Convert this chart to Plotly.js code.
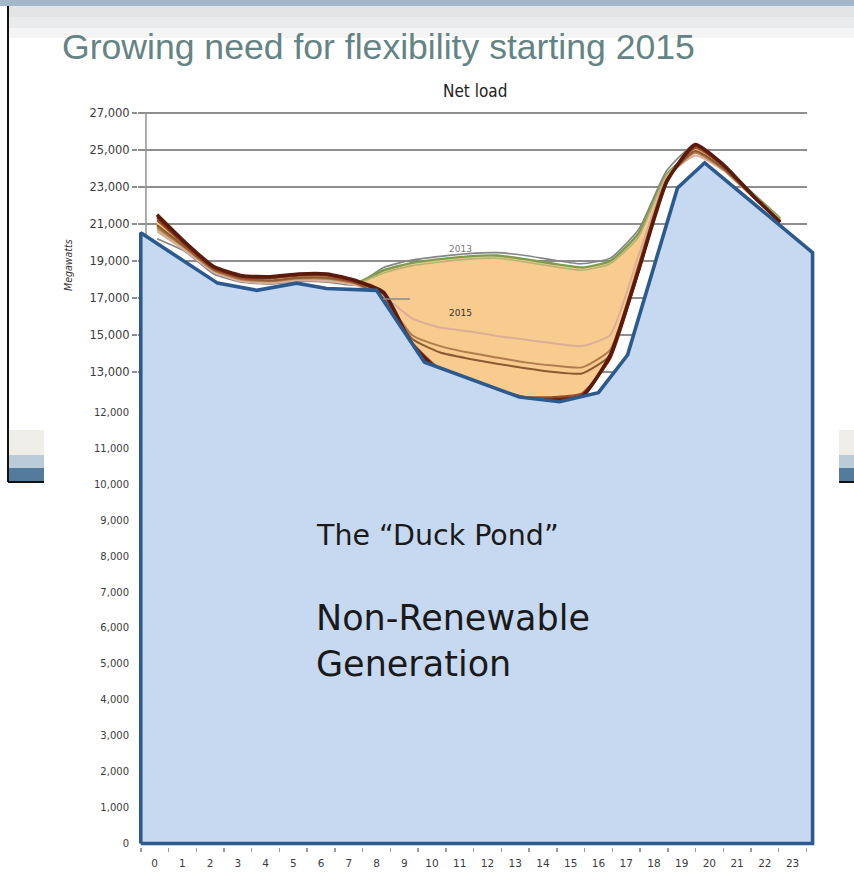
<!DOCTYPE html>
<html>
<head>
<meta charset="utf-8">
<script src="https://cdn.plot.ly/plotly-3.0.1.min.js"></script>
<style>
  html, body { margin: 0; padding: 0; background: #ffffff; }
  #chart { width: 854px; height: 872px; }
</style>
</head>
<body>
<div id="chart"></div>
<script>
// ---- Net load curves (MW) by hour of day, one array per year ----
const hours = [0,1,2,3,4,5,6,7,8,9,10,11,12,13,14,15,16,17,18,19,20,21,22];

const load2012 = [20200,19500,18300,17850,17750,17900,17850,17700,18650,19050,19250,19400,19450,19300,19050,18850,19150,20700,23900,25300,24100,22600,21250];
const load2013 = [20900,19700,18500,18000,17900,18050,18000,17800,18500,18900,19100,19250,19300,19100,18850,18650,19000,20500,23700,24900,24000,22700,21300];
const load2014 = [20700,19600,18450,17950,17850,18000,17950,17750,18350,18750,18950,19100,19150,18950,18700,18500,18850,20300,23650,24850,23950,22650,21250];
const load2015 = [20600,19550,18400,17900,17800,17950,17900,17700,17100,15900,15400,15200,14950,14750,14550,14400,15000,19300,23500,24700,23900,22500,21150];
const load2016 = [20800,19700,18500,18000,17900,18050,18050,17800,17000,15000,14400,14050,13780,13520,13350,13250,14200,18800,23450,24850,23950,22520,21150];
const load2017 = [20950,19750,18550,18050,17950,18100,18100,17820,16950,14800,14050,13720,13450,13200,13000,12920,13900,18700,23400,24950,24000,22540,21120];
const load2018 = [21200,19850,18600,18100,18050,18200,18200,17850,17200,14600,13150,12600,12050,11650,11650,11850,13700,18400,23350,25100,24100,22550,21100];
const load2019 = [21350,19900,18650,18150,18100,18250,18250,17900,17250,14550,13050,12500,11950,11550,11550,11750,13800,18450,23300,25200,24150,22580,21100];
const load2020 = [21500,20000,18700,18200,18150,18300,18300,17950,17300,14500,12950,12400,11850,11450,11450,11650,13900,18500,23300,25300,24200,22600,21100];

const years  = ['2012','2013','2014','2015','2016','2017','2018','2019','2020'];
const series = [load2012,load2013,load2014,load2015,load2016,load2017,load2018,load2019,load2020];
const lineColors = ['#858585','#7d9c4c','#b9b276','#dcae98','#b07c4e','#8c5a32','#9a4d2a','#7c2e17','#5a1a0c'];
const lineWidths = [1.6,2.4,1.6,2,2,2,2,2.2,3.6];

// ---- Non-renewable generation block ("duck pond"), MW against the lower scale ----
const pondHours = [-0.5,-0.5, 2.27, 3.68, 5.12, 6.2, 8.0, 9.73, 13.15, 14.6, 16.0, 17.05, 18.85, 19.83, 23.72, 23.72, -0.5];
const pondMW    = [0,   17000,15600,15400,15600,15450,15400,13400,12430,12300,12550,13600,18250,18950,16450, 0,    0];

// ---- Tick labels ----
const upperTicks = [13000,15000,17000,19000,21000,23000,25000,27000];
const lowerTicks = [0,1000,2000,3000,4000,5000,6000,7000,8000,9000,10000,11000,12000];
const hourTicks  = [0,1,2,3,4,5,6,7,8,9,10,11,12,13,14,15,16,17,18,19,20,21,22,23];
const fmt = v => v.toLocaleString('en-US');

const traces = [];

// orange band between the 2013 and 2020 curves
traces.push({
  x: hours, y: load2020, type: 'scatter', mode: 'lines',
  line: {width: 0, shape: 'spline', smoothing: 0.5}, hoverinfo: 'skip', xaxis: 'x', yaxis: 'y'
});
traces.push({
  x: hours, y: load2013, type: 'scatter', mode: 'lines', fill: 'tonexty',
  fillcolor: '#f8cb8e', line: {width: 0, shape: 'spline', smoothing: 0.5},
  hoverinfo: 'skip', xaxis: 'x', yaxis: 'y'
});

// yearly net-load curves
series.forEach((s, i) => {
  traces.push({
    x: hours, y: s, type: 'scatter', mode: 'lines', name: years[i],
    line: {color: lineColors[i], width: lineWidths[i], shape: 'spline', smoothing: 0.5},
    xaxis: 'x', yaxis: 'y'
  });
});

// generation block drawn over the curves
traces.push({
  x: pondHours, y: pondMW, type: 'scatter', mode: 'lines', fill: 'toself',
  fillcolor: '#c6d9f0', line: {color: '#2d5a8e', width: 3.6},
  hoverinfo: 'skip', xaxis: 'x2', yaxis: 'y2'
});

// horizontal grid of the net-load chart
const shapes = upperTicks.map(v => ({
  type: 'line', xref: 'x', yref: 'y', x0: -0.671, x1: 22.95, y0: v, y1: v,
  line: {color: '#8e8e8e', width: 2}, layer: 'below'
}));
shapes.push({type: 'line', xref: 'x', yref: 'y', x0: -0.39, x1: -0.39, y0: 12000, y1: 27000,
  line: {color: '#9a9a9a', width: 1.6}, layer: 'below'});
// label leader for 2015
shapes.push({type: 'line', xref: 'x', yref: 'y', x0: 7.98, x1: 8.93, y0: 16946, y1: 16946,
  line: {color: '#8a8a8a', width: 1.5}});

// slide frame decoration
const px = p => (p - 138) / 679;
const py = p => (847 - p) / 737;
const rect = (x0, y0, x1, y1, color) => ({type: 'rect', xref: 'paper', yref: 'paper',
  x0: px(x0), x1: px(x1), y0: py(y0), y1: py(y1), fillcolor: color, line: {width: 0}, layer: 'below'});
shapes.push(rect(0, 0, 854, 6, '#a3b7c8'));
shapes.push(rect(8, 6, 854, 17, '#e2e4e6'));
shapes.push(rect(8, 17, 854, 28, '#eaebec'));
shapes.push(rect(8, 28, 854, 38, '#f4f4f5'));
shapes.push(rect(8, 430, 44, 455, '#efeee8'));
shapes.push(rect(8, 455, 44, 468, '#bccbd8'));
shapes.push(rect(8, 468, 44, 481, '#557b9c'));
shapes.push(rect(839, 430, 854, 455, '#efeee8'));
shapes.push(rect(839, 455, 854, 468, '#bccbd8'));
shapes.push(rect(839, 468, 854, 481, '#557b9c'));
shapes.push({type: 'line', xref: 'paper', yref: 'paper', x0: px(8), x1: px(8), y0: py(6), y1: py(482),
  line: {color: '#111111', width: 2}});
shapes.push({type: 'line', xref: 'paper', yref: 'paper', x0: px(8), x1: px(44), y0: py(482), y1: py(482),
  line: {color: '#111111', width: 2}});
shapes.push({type: 'line', xref: 'paper', yref: 'paper', x0: px(839), x1: px(854), y0: py(482), y1: py(482),
  line: {color: '#111111', width: 2}});

const annotations = [
  {text: 'Growing need for flexibility starting 2015', xref: 'paper', yref: 'paper',
   x: px(60), y: py(47), xanchor: 'left', yanchor: 'middle', showarrow: false,
   font: {family: 'Liberation Sans, Arial, sans-serif', size: 35.6, color: '#648484'}},
  {text: 'Net load', xref: 'paper', yref: 'paper', x: px(475), y: py(91),
   xanchor: 'center', yanchor: 'middle', showarrow: false,
   font: {family: 'DejaVu Sans Condensed, sans-serif', size: 17, color: '#222222'}},
  {text: '<i>Megawatts</i>', xref: 'paper', yref: 'y', x: px(68), y: 18784, textangle: -90,
   xanchor: 'center', yanchor: 'middle', showarrow: false,
   font: {family: 'DejaVu Sans Condensed, sans-serif', size: 10.5, color: '#333333'}},
  {text: '2013', xref: 'x', yref: 'y', x: 10.73, y: 19650, showarrow: false,
   font: {family: 'DejaVu Sans, sans-serif', size: 9, color: '#7a7a7a'}},
  {text: '2015', xref: 'x', yref: 'y', x: 10.73, y: 16190, showarrow: false,
   font: {family: 'DejaVu Sans, sans-serif', size: 9, color: '#333333'}},
  {text: 'The \u201CDuck Pond\u201D', xref: 'paper', yref: 'paper', x: px(314), y: py(535),
   xanchor: 'left', yanchor: 'middle', showarrow: false,
   font: {family: 'DejaVu Sans, sans-serif', size: 28.5, color: '#1a1a1a'}},
  {text: 'Non-Renewable<br>Generation', xref: 'paper', yref: 'paper', x: px(314), y: py(641),
   xanchor: 'left', yanchor: 'middle', align: 'left', showarrow: false,
   font: {family: 'DejaVu Sans, sans-serif', size: 35, color: '#1a1a1a'}}
];

const layout = {
  width: 854, height: 872,
  margin: {l: 138, r: 37, t: 110, b: 25, pad: 0},
  paper_bgcolor: '#ffffff', plot_bgcolor: 'rgba(0,0,0,0)',
  showlegend: false,
  xaxis: {range: [-0.671, 23.30], showticklabels: false, ticks: '', showgrid: false,
          zeroline: false, showline: false, fixedrange: true},
  yaxis: {range: [-12676, 27162], tickmode: 'array', tickvals: upperTicks, ticktext: upperTicks.map(fmt),
          ticks: 'outside', ticklen: 5, tickwidth: 2, tickcolor: '#8e8e8e',
          showgrid: false, zeroline: false, showline: false, fixedrange: true,
          tickfont: {family: 'DejaVu Sans, sans-serif', size: 11.5, color: '#3c3c3c'}},
  xaxis2: {overlaying: 'x', anchor: 'y2', side: 'bottom', range: [-0.6, 23.88],
           tickmode: 'array', tickvals: hourTicks, ticktext: hourTicks.map(String),
           ticks: '', showgrid: false, zeroline: false, showline: false, fixedrange: true,
           ticklabelstandoff: 8,
           minor: {tick0: 0.5, dtick: 1, ticks: 'outside', ticklen: 4, tickwidth: 1.5,
                   tickcolor: '#9a9a9a', showgrid: false},
           tickfont: {family: 'DejaVu Sans, sans-serif', size: 10.5, color: '#3c3c3c'}},
  yaxis2: {overlaying: 'y', anchor: 'x2', side: 'left', range: [-97, 20420],
           tickmode: 'array', tickvals: lowerTicks, ticktext: lowerTicks.map(fmt),
           ticks: 'outside', ticklen: 6, tickcolor: 'rgba(0,0,0,0)',
           showgrid: false, zeroline: false, showline: false, fixedrange: true,
           tickfont: {family: 'DejaVu Sans, sans-serif', size: 10, color: '#3c3c3c'}},
  shapes: shapes,
  annotations: annotations
};

Plotly.newPlot('chart', traces, layout, {staticPlot: true, displayModeBar: false});
</script>
</body>
</html>
